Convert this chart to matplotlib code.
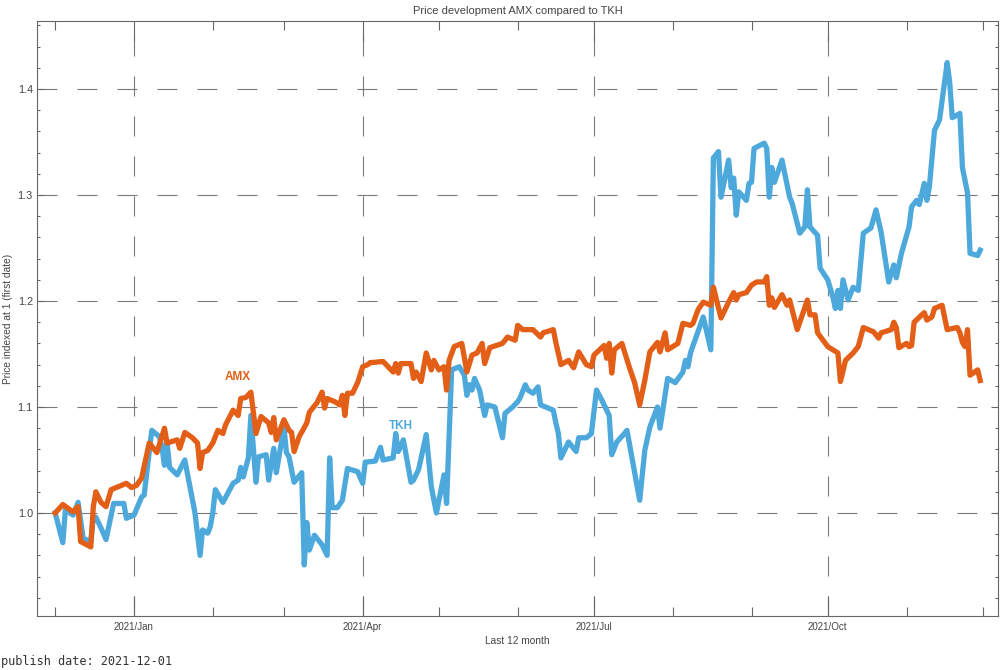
import matplotlib
matplotlib.use("Agg")
import matplotlib.pyplot as plt
import matplotlib.dates as mdates
from matplotlib.ticker import MultipleLocator
import pandas as pd

# trading days counted from the first date (2020-12-01), values indexed at 1
start_date = "2020-12-01"

amx_days = [0, 3, 7, 9, 10, 14, 15, 16, 18, 20, 22, 25, 28, 30, 32, 34, 37, 40, 43, 44,
            48, 49, 51, 54, 56, 57, 58, 60, 62, 64, 66, 67, 70, 72, 73, 75, 77, 79, 81, 84,
            85, 86, 87, 90, 92, 93, 94, 96, 99, 100, 103, 105, 106, 107, 110, 112, 113, 114, 115, 117,
            119, 121, 123, 124, 125, 129, 133, 134, 135, 136, 140, 141, 142, 144, 146, 148, 149, 151, 153, 154,
            155, 157, 160, 162, 164, 166, 168, 169, 171, 176, 178, 181, 182, 184, 188, 191, 192, 196, 197, 199,
            202, 204, 206, 209, 211, 212, 216, 217, 218, 219, 220, 223, 226, 228, 230, 232, 234, 237, 238, 240,
            241, 245, 247, 250, 251, 253, 255, 258, 259, 262, 265, 267, 268, 269, 272, 274, 276, 279, 280, 281,
            282, 283, 286, 288, 289, 292, 296, 297, 299, 300, 304, 308, 309, 311, 314, 316, 318, 322, 324, 325,
            329, 330, 331, 332, 335, 336, 337, 338, 341, 342, 343, 345, 346, 349, 351, 355, 356, 357, 358, 359,
            360, 363, 364]
amx_vals = [1.000, 1.008, 1.001, 1.006, 0.973, 0.968, 1.006, 1.020, 1.010, 1.006, 1.022, 1.025, 1.028, 1.024, 1.026, 1.033, 1.066, 1.057, 1.080, 1.066,
            1.069, 1.061, 1.076, 1.071, 1.066, 1.042, 1.057, 1.059, 1.066, 1.078, 1.075, 1.083, 1.097, 1.092, 1.108, 1.109, 1.114, 1.075, 1.091, 1.085,
            1.076, 1.090, 1.069, 1.088, 1.078, 1.076, 1.058, 1.072, 1.085, 1.095, 1.104, 1.114, 1.099, 1.108, 1.105, 1.102, 1.111, 1.092, 1.113, 1.113,
            1.123, 1.138, 1.140, 1.142, 1.142, 1.143, 1.133, 1.141, 1.132, 1.141, 1.141, 1.127, 1.133, 1.124, 1.151, 1.135, 1.144, 1.135, 1.138, 1.116,
            1.144, 1.157, 1.160, 1.133, 1.149, 1.151, 1.160, 1.141, 1.156, 1.160, 1.166, 1.163, 1.177, 1.173, 1.173, 1.166, 1.170, 1.173, 1.161, 1.140,
            1.144, 1.137, 1.152, 1.140, 1.138, 1.149, 1.158, 1.146, 1.160, 1.132, 1.154, 1.160, 1.137, 1.123, 1.102, 1.125, 1.152, 1.161, 1.152, 1.170,
            1.154, 1.160, 1.179, 1.177, 1.179, 1.192, 1.199, 1.196, 1.213, 1.184, 1.199, 1.208, 1.201, 1.206, 1.208, 1.215, 1.218, 1.218, 1.223, 1.196,
            1.203, 1.194, 1.206, 1.196, 1.201, 1.173, 1.201, 1.187, 1.187, 1.170, 1.157, 1.151, 1.124, 1.144, 1.151, 1.157, 1.175, 1.171, 1.165, 1.170,
            1.173, 1.180, 1.175, 1.156, 1.160, 1.157, 1.158, 1.180, 1.187, 1.189, 1.182, 1.185, 1.193, 1.196, 1.173, 1.175, 1.170, 1.161, 1.157, 1.173,
            1.130, 1.135, 1.125]

tkh_days = [0, 3, 4, 7, 9, 11, 12, 14, 15, 16, 18, 20, 23, 27, 28, 31, 34, 35, 38, 41,
            42, 43, 44, 45, 48, 51, 55, 57, 58, 60, 61, 62, 63, 66, 70, 72, 73, 74, 76, 77,
            79, 80, 83, 84, 86, 87, 90, 91, 92, 94, 97, 98, 99, 100, 102, 105, 107, 108, 109, 111,
            113, 115, 119, 121, 122, 126, 128, 129, 133, 134, 135, 137, 140, 141, 143, 146, 148, 150, 153, 154,
            156, 159, 161, 162, 163, 164, 165, 167, 169, 170, 173, 176, 177, 180, 182, 183, 185, 186, 188, 190,
            191, 196, 197, 198, 199, 202, 205, 206, 209, 211, 213, 215, 218, 219, 221, 224, 225, 230, 232, 234,
            237, 238, 241, 244, 247, 248, 249, 250, 251, 255, 258, 259, 261, 262, 265, 266, 267, 268, 269, 272,
            273, 274, 275, 279, 280, 281, 282, 283, 286, 289, 290, 293, 295, 296, 297, 300, 301, 304, 306, 307,
            308, 309, 310, 312, 314, 316, 318, 321, 323, 325, 328, 330, 331, 333, 336, 337, 339, 340, 342, 343,
            344, 346, 348, 351, 352, 353, 356, 357, 359, 360, 363, 364]
tkh_vals = [1.000, 0.972, 1.003, 0.998, 1.010, 0.976, 0.975, 0.973, 0.996, 0.996, 0.986, 0.975, 1.009, 1.009, 0.995, 0.998, 1.015, 1.017, 1.078, 1.072,
            1.062, 1.045, 1.067, 1.043, 1.036, 1.050, 1.000, 0.960, 0.984, 0.981, 0.987, 1.000, 1.022, 1.010, 1.028, 1.031, 1.043, 1.034, 1.052, 1.092,
            1.029, 1.053, 1.055, 1.031, 1.061, 1.038, 1.081, 1.057, 1.053, 1.029, 1.038, 0.951, 0.991, 0.965, 0.979, 0.970, 0.960, 1.052, 1.005, 1.005,
            1.012, 1.042, 1.039, 1.028, 1.048, 1.049, 1.062, 1.050, 1.052, 1.075, 1.058, 1.069, 1.029, 1.031, 1.041, 1.074, 1.025, 1.000, 1.036, 1.009,
            1.135, 1.138, 1.130, 1.111, 1.121, 1.116, 1.127, 1.116, 1.092, 1.102, 1.100, 1.071, 1.094, 1.100, 1.105, 1.109, 1.121, 1.116, 1.113, 1.119,
            1.102, 1.097, 1.085, 1.075, 1.052, 1.067, 1.058, 1.071, 1.071, 1.075, 1.116, 1.107, 1.092, 1.055, 1.067, 1.075, 1.078, 1.012, 1.059, 1.081,
            1.100, 1.080, 1.127, 1.123, 1.133, 1.144, 1.138, 1.151, 1.158, 1.185, 1.154, 1.335, 1.341, 1.298, 1.333, 1.307, 1.316, 1.281, 1.303, 1.295,
            1.311, 1.312, 1.344, 1.349, 1.344, 1.298, 1.326, 1.312, 1.333, 1.298, 1.292, 1.264, 1.270, 1.305, 1.270, 1.262, 1.231, 1.220, 1.204, 1.193,
            1.210, 1.193, 1.220, 1.201, 1.213, 1.210, 1.264, 1.269, 1.286, 1.265, 1.218, 1.234, 1.222, 1.245, 1.270, 1.289, 1.295, 1.291, 1.311, 1.295,
            1.308, 1.361, 1.371, 1.425, 1.406, 1.373, 1.377, 1.326, 1.302, 1.245, 1.243, 1.248]

amx_color = "#E35F17"
tkh_color = "#4DA9DC"
grid_color = "#7a7a7a"
text_color = "#444444"

plt.rcParams["font.family"] = ["Liberation Sans", "DejaVu Sans"]
plt.rcParams["lines.scale_dashes"] = False

base = pd.Timestamp(start_date)
amx_dates = base + pd.to_timedelta(amx_days, unit="D")
tkh_dates = base + pd.to_timedelta(tkh_days, unit="D")

fig = plt.figure(figsize=(10, 6.7), dpi=100)
ax = fig.add_axes([0.037, 0.0806, 0.961, 0.888])

ax.plot(tkh_dates, tkh_vals, color=tkh_color, lw=3.8, solid_joinstyle="round", zorder=3)
ax.plot(amx_dates, amx_vals, color=amx_color, lw=3.8, solid_joinstyle="round", zorder=4)

ax.text(pd.Timestamp("2021-02-11"), 1.128, "AMX", color=amx_color, fontsize=8.5,
        fontweight="bold", ha="center", va="center")
ax.text(pd.Timestamp("2021-04-16"), 1.082, "TKH", color=tkh_color, fontsize=8.5,
        fontweight="bold", ha="center", va="center")

ax.set_xlim(pd.Timestamp("2020-11-23 20:00"), pd.Timestamp("2021-12-07"))
ax.set_ylim(0.9028, 1.4642)

ax.xaxis.set_major_locator(mdates.MonthLocator(bymonth=[1, 4, 7, 10]))
ax.xaxis.set_minor_locator(mdates.MonthLocator())
ax.xaxis.set_major_formatter(mdates.DateFormatter("%Y/%b"))
ax.yaxis.set_major_locator(MultipleLocator(0.1))
ax.yaxis.set_minor_locator(MultipleLocator(0.02))
ax.yaxis.set_major_formatter(plt.FuncFormatter(lambda v, p: f"{v:.1f}"))

ax.tick_params(axis="both", which="both", direction="in", top=True, right=True,
               colors="#666666", labelcolor=text_color, labelsize=7, width=0.8)
ax.tick_params(axis="x", which="major", length=14.4, pad=4)
ax.tick_params(axis="x", which="minor", length=6.5)
ax.tick_params(axis="y", which="major", length=5, pad=3, labelsize=7.8)
ax.tick_params(axis="y", which="minor", length=2.5)

for s in ax.spines.values():
    s.set_color("#666666")
    s.set_linewidth(0.8)

ax.grid(True, which="major", color=grid_color, lw=0.8, linestyle=(0, (14.4, 14.4)))
ax.set_axisbelow(True)

ax.set_title("Price development AMX compared to TKH", fontsize=8, color=text_color, pad=5)
ax.set_xlabel("Last 12 month", fontsize=7.3, color=text_color, labelpad=3)
ax.set_ylabel("Price indexed at 1 (first date)", fontsize=7.3, color=text_color)
ax.yaxis.set_label_coords(-0.025, 0.5)

fig.text(0.001, 0.008, "publish date: 2021-12-01", family="DejaVu Sans Mono",
         fontsize=8.6, color="#333333", ha="left", va="baseline")

fig.savefig("out.png", dpi=100)
